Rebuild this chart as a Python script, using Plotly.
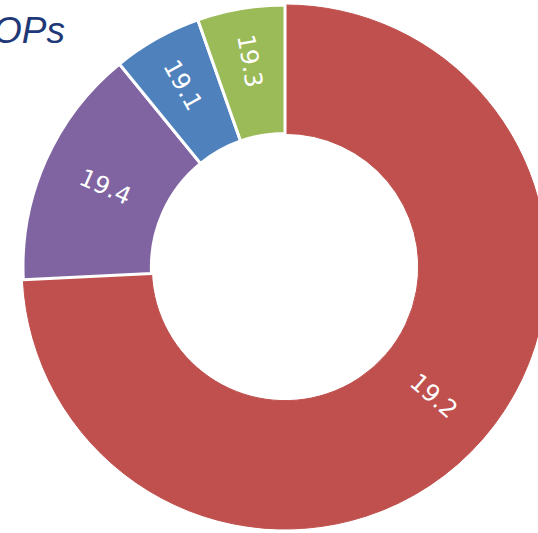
import plotly.graph_objects as go

# Data
segment_labels = ["19.2", "19.4", "19.1", "19.3"]
segment_sizes = [74.3, 14.9, 5.5, 5.4]
segment_colors = ["#C0504D", "#8064A2", "#4F81BD", "#9BBB59"]
title_text = "OPs"

W, H = 548, 533

# The first (large) segment is drawn as three seamless sub-slices so that its
# label sits in the lower-right part of the ring, as in the reference.
label_split = [0.374, 0.232, 0.394]  # fractions of the first segment (styling only)

values, texts, colors, line_colors, line_widths = [], [], [], [], []
for i, (lab, val, col) in enumerate(zip(segment_labels, segment_sizes, segment_colors)):
    if i == 0:
        for j, f in enumerate(label_split):
            values.append(val * f)
            texts.append(lab if j == 1 else "")
            colors.append(col)
            line_colors.append(col)
            line_widths.append(1)
    else:
        values.append(val)
        texts.append(lab)
        colors.append(col)
        line_colors.append("white")
        line_widths.append(3)

fig = go.Figure(
    go.Pie(
        values=values,
        text=texts,
        textinfo="text",
        hoverinfo="text",
        sort=False,
        direction="clockwise",
        rotation=0,
        hole=0.51,
        marker=dict(colors=colors, line=dict(color=line_colors, width=line_widths)),
        textposition="inside",
        insidetextorientation="radial",
        insidetextfont=dict(family="DejaVu Sans, sans-serif", size=24, color="white"),
        domain=dict(x=[23 / W, 547 / W], y=[4 / H, 528 / H]),
        showlegend=False,
    )
)

fig.add_annotation(
    text="<i>" + title_text + "</i>",
    xref="paper", yref="paper",
    x=67 / W, y=1 - 31 / H,
    xanchor="right", yanchor="middle",
    showarrow=False,
    font=dict(family="Liberation Sans, Arial, sans-serif", size=37, color="#1F3877"),
)

fig.update_layout(
    width=W, height=H,
    margin=dict(l=0, r=0, t=0, b=0),
    paper_bgcolor="white",
    plot_bgcolor="white",
)

fig.write_html(
    "out.html",
    config={"displayModeBar": False},
    post_script="document.body.style.margin='0';document.body.style.overflow='hidden';",
)
